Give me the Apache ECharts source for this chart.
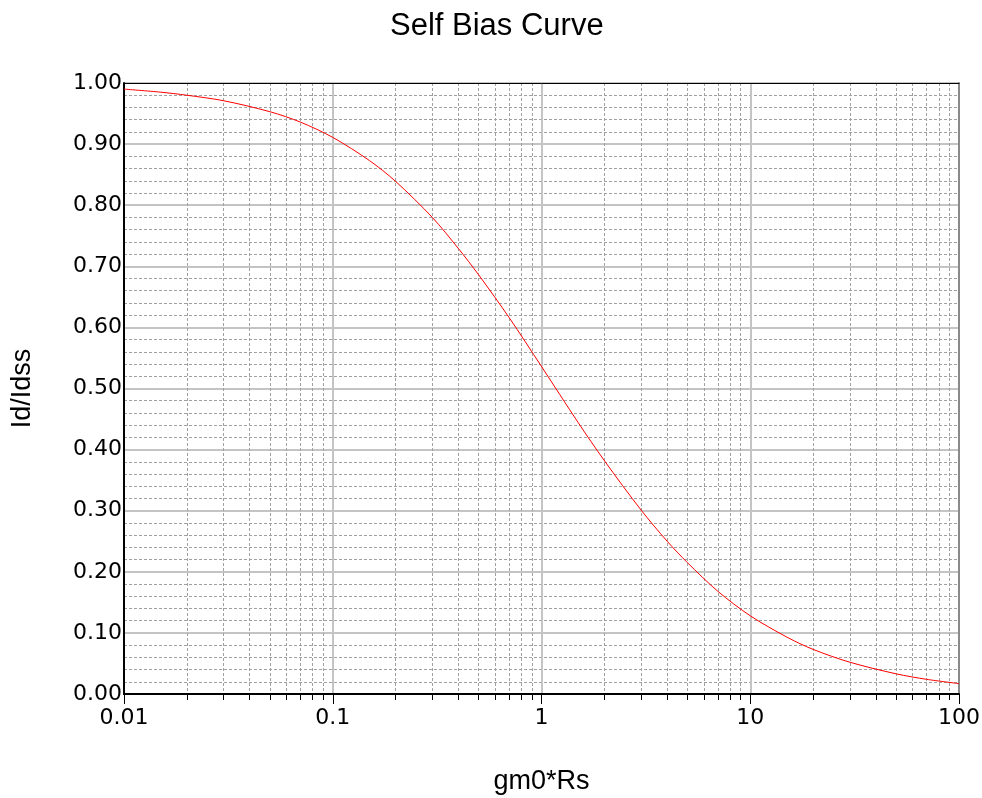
<!DOCTYPE html>
<html>
<head>
<meta charset="utf-8">
<script src="https://cdn.jsdelivr.net/npm/echarts@6/dist/echarts.min.js"></script>
<style>html,body{margin:0;padding:0;background:#fff}#c{width:982px;height:798px}</style>
</head>
<body>
<div id="c"></div>
<script>
const titleText = 'Self Bias Curve';
const xName = 'gm0*Rs';
const yName = 'Id/Idss';
const gmRs = [0.01, 0.015, 0.02, 0.03, 0.05, 0.07, 0.1, 0.15, 0.2, 0.3, 0.4, 0.5, 0.7, 1, 1.5, 2, 3, 4, 5, 7, 10, 15, 20, 30, 50, 70, 100];
const idRatio = [0.990, 0.985, 0.980, 0.971, 0.953, 0.936, 0.911, 0.873, 0.839, 0.780, 0.729, 0.686, 0.616, 0.536, 0.444, 0.382, 0.301, 0.250, 0.215, 0.168, 0.128, 0.093, 0.073, 0.052, 0.033, 0.024, 0.017];

const chart = echarts.init(document.getElementById('c'), null, {renderer: 'canvas'});
const tickFont = {fontFamily: 'DejaVu Sans', fontSize: 22, color: '#000'};
chart.setOption({
  animation: false,
  backgroundColor: '#fff',
  title: {
    text: titleText, left: 385, top: 6,
    textStyle: {fontFamily: 'Liberation Sans', fontSize: 31, fontWeight: 'normal', color: '#000'}
  },
  grid: {left: 124, right: 23, top: 83, bottom: 104, containLabel: false, outerBoundsMode: 'none'},
  xAxis: [{
    type: 'log', logBase: 10, min: 0.01, max: 100,
    name: xName, nameLocation: 'middle', nameGap: 74, nameMoveOverlap: false,
    nameTextStyle: {fontFamily: 'Liberation Sans', fontSize: 27, color: '#000'},
    axisLine: {show: true, onZero: false, lineStyle: {color: '#000', width: 2}},
    axisTick: {show: true, inside: false, length: 10, lineStyle: {color: '#000', width: 1}},
    minorTick: {show: true, splitNumber: 9, length: 6, lineStyle: {color: '#000', width: 1}},
    axisLabel: Object.assign({margin: 13, formatter: v => String(v)}, tickFont),
    splitLine: {show: true, lineStyle: {color: '#c4c4c4', width: 2}},
    minorSplitLine: {show: true, lineStyle: {color: '#a0a0a0', width: 1, type: [3, 2]}}
  }, {
    type: 'log', logBase: 10, min: 0.01, max: 100, position: 'top',
    axisLine: {show: true, onZero: false, lineStyle: {color: '#000', width: 1}},
    axisTick: {show: false}, axisLabel: {show: false}, splitLine: {show: false}
  }],
  yAxis: [{
    type: 'value', min: 0, max: 1, interval: 0.1,
    name: yName, nameLocation: 'middle', nameGap: 88, nameRotate: 90, nameMoveOverlap: false,
    nameTextStyle: {fontFamily: 'Liberation Sans', fontSize: 27, color: '#000'},
    axisLine: {show: true, onZero: false, lineStyle: {color: '#000', width: 2}},
    axisTick: {show: false},
    axisLabel: Object.assign({margin: 2, formatter: v => v.toFixed(2), padding: [3, 0, 0, 0]}, tickFont),
    splitLine: {show: true, lineStyle: {color: '#c4c4c4', width: 2}},
    minorTick: {show: false, splitNumber: 5},
    minorSplitLine: {show: true, lineStyle: {color: '#a0a0a0', width: 1, type: [3, 2]}}
  }, {
    type: 'value', min: 0, max: 1, interval: 0.1, position: 'right',
    axisLine: {show: true, onZero: false, lineStyle: {color: '#8a8a8a', width: 2}},
    axisTick: {show: false}, axisLabel: {show: false}, splitLine: {show: false}
  }],
  series: [{
    type: 'line',
    data: gmRs.map((x, i) => [x, idRatio[i]]),
    smooth: 0.3,
    showSymbol: false,
    lineStyle: {color: '#ff0000', width: 1},
    z: 5
  }]
});
</script>
</body>
</html>
